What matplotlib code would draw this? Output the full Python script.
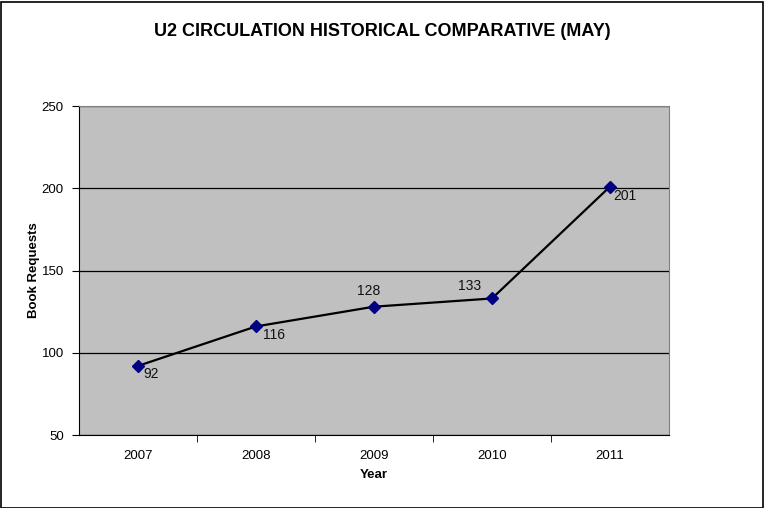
import matplotlib
matplotlib.use("Agg")
import matplotlib.pyplot as plt
from matplotlib.patches import Rectangle

years = ["2007", "2008", "2009", "2010", "2011"]
requests = [92, 116, 128, 133, 201]
label_offsets = [(4, -6), (5, -6), (-4, 11), (-8, 9), (2, -7)]
yticks = [50, 100, 150, 200, 250]

plt.rcParams['font.family'] = ['Liberation Sans', 'DejaVu Sans']

fig = plt.figure(figsize=(7.64, 5.08), dpi=100)
fig.patches.append(Rectangle((0.5/764, 0.5/508), 1 - 2/764, 1 - 2/508, transform=fig.transFigure,
                             fill=False, edgecolor='black', linewidth=1.2))
ax = fig.add_axes([79/764, 1 - 435/508, 590/764, 329/508])
ax.set_facecolor('#C0C0C0')

x = list(range(len(years)))
ax.plot(x, requests, color='black', linewidth=1.6, zorder=3)
ax.plot(x, requests, linestyle='none', marker='D', markersize=6, color='#000080', zorder=4)

for xi, v, (dx, dy) in zip(x, requests, label_offsets):
    ha = 'left' if dx > 0 else ('right' if dx < -5 else 'center')
    ax.annotate(str(v), (xi, v), xytext=(dx, dy), textcoords='offset points',
                ha=ha, va='center', fontsize=10, color='#111111', zorder=5)

ax.set_xlim(-0.5, len(years) - 0.5)
ax.set_ylim(50, 250)
ax.set_yticks(yticks)
ax.set_yticklabels([str(t) for t in yticks], fontsize=9.5)
ax.yaxis.grid(True, color='black', linewidth=0.9)
ax.set_axisbelow(True)

ax.set_xticks(x)
ax.set_xticklabels(years, fontsize=9.5)
ax.set_xticks([i + 0.5 for i in range(len(years) - 1)], minor=True)
ax.tick_params(axis='x', which='major', length=0, pad=11)
ax.tick_params(axis='x', which='minor', length=5, direction='out', color='black')
ax.tick_params(axis='y', length=5, direction='out', color='black', pad=6)

for s in ['top', 'right']:
    ax.spines[s].set_color('#808080')
for s in ['left', 'bottom']:
    ax.spines[s].set_color('black')

ax.set_ylabel('Book Requests', fontsize=9.5, fontweight='bold', labelpad=1)
ax.set_xlabel('Year', fontsize=9.5, fontweight='bold', labelpad=5)

fig.text(0.5, 1 - 31/508, 'U2 CIRCULATION HISTORICAL COMPARATIVE (MAY)', ha='center', va='center',
         fontsize=13, fontweight='bold')

fig.savefig('out.png', dpi=100)
